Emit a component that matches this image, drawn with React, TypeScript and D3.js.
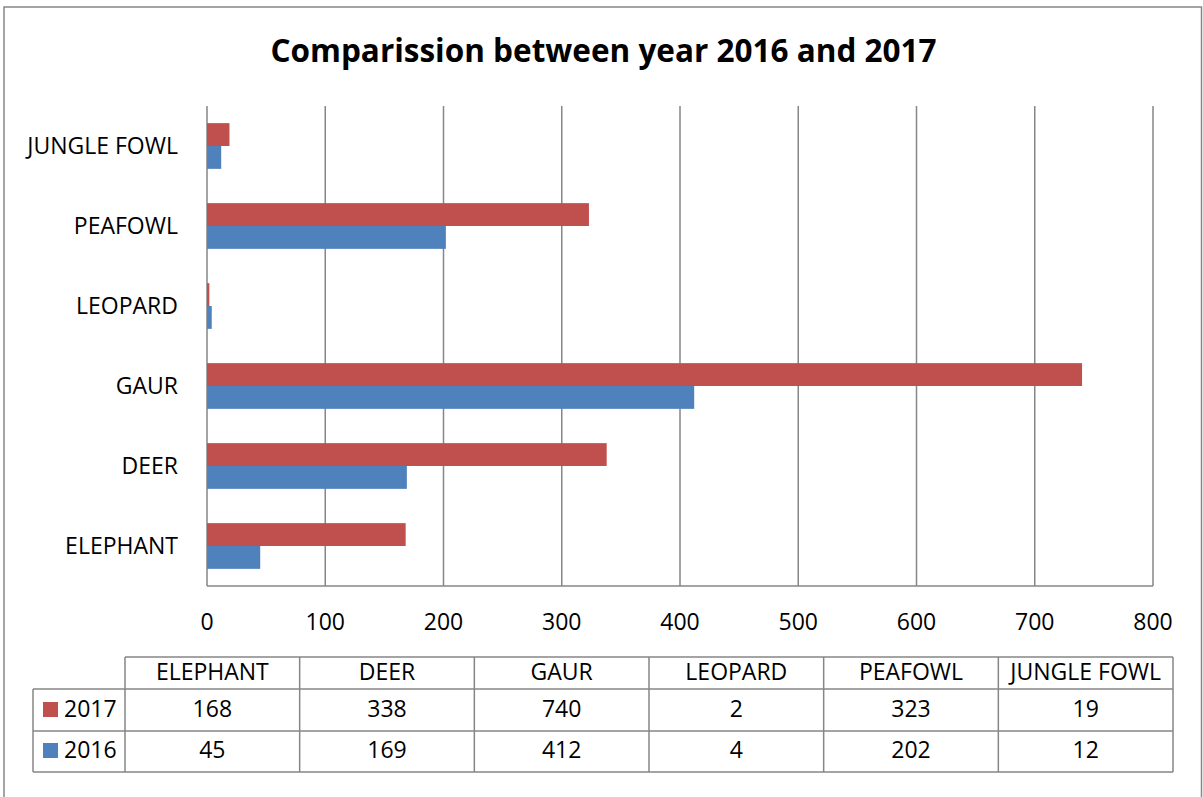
import React from "react";
import * as d3 from "d3";

const title = "Comparission between year 2016 and 2017";
const categories = ["ELEPHANT", "DEER", "GAUR", "LEOPARD", "PEAFOWL", "JUNGLE FOWL"];
const seriesNames = ["2017", "2016"];
const values2017 = [168, 338, 740, 2, 323, 19];
const values2016 = [45, 169, 412, 4, 202, 12];
const xTicks = [0, 100, 200, 300, 400, 500, 600, 700, 800];
const seriesColors = ["#C0504D", "#4F81BD"];

const W = 1203;
const H = 797;
const FONT = "'Open Sans', sans-serif";
const GRID = "#868686";
const FS = 23;

export default function App() {
  const series = [values2017, values2016];
  const x = d3.scaleLinear().domain([0, 800]).range([207, 1153]);
  const y = d3
    .scaleBand<string>()
    .domain([...categories].reverse())
    .range([106, 586]);
  const inner = d3
    .scaleBand<string>()
    .domain(seriesNames)
    .range([0, y.bandwidth()])
    .paddingInner(0)
    .paddingOuter(0.75);

  // table geometry
  const col = d3.scaleBand<string>().domain(categories).range([125, 1173]);
  const rowTops = [657, 689, 731, 772];
  const legendLeft = 33;

  return (
    <svg
      width={W}
      height={H}
      style={{ position: "absolute", left: 0, top: 0, background: "#fff" }}
      fontFamily={FONT}
    >
      <rect x={0} y={0} width={W} height={H} fill="#fff" />
      <rect x={4} y={7} width={1197.5} height={H + 10} fill="none" stroke={GRID} strokeWidth={1.5} />
      <text x={603.5} y={62} textAnchor="middle" fontSize={31.5} fontWeight="bold" fill="#000">
        {title}
      </text>

      {/* grid lines */}
      {xTicks.map((t) => (
        <line key={t} x1={x(t)} x2={x(t)} y1={106} y2={586} stroke={GRID} strokeWidth={1.5} />
      ))}
      <line x1={x(0)} x2={x(800)} y1={586} y2={586} stroke={GRID} strokeWidth={1.5} />

      {/* bars */}
      {categories.map((c, i) =>
        seriesNames.map((s, j) => {
          const v = series[j][i];
          return (
            <rect
              key={c + s}
              x={x(0)}
              y={(y(c) as number) + (inner(s) as number)}
              width={x(v) - x(0)}
              height={inner.bandwidth()}
              fill={seriesColors[j]}
            />
          );
        })
      )}

      {/* category labels */}
      {categories.map((c) => (
        <text
          key={c}
          x={178}
          y={(y(c) as number) + y.bandwidth() / 2}
          dy="0.35em"
          textAnchor="end"
          fontSize={FS}
          fill="#000"
        >
          {c}
        </text>
      ))}

      {/* tick labels */}
      {xTicks.map((t) => (
        <text key={t} x={x(t)} y={630} textAnchor="middle" fontSize={FS} fill="#000">
          {t}
        </text>
      ))}

      {/* data table */}
      <g stroke={GRID} strokeWidth={1.5}>
        <line x1={125} x2={1173} y1={rowTops[0]} y2={rowTops[0]} />
        <line x1={legendLeft} x2={1173} y1={rowTops[1]} y2={rowTops[1]} />
        <line x1={legendLeft} x2={1173} y1={rowTops[2]} y2={rowTops[2]} />
        <line x1={legendLeft} x2={1173} y1={rowTops[3]} y2={rowTops[3]} />
        <line x1={legendLeft} x2={legendLeft} y1={rowTops[1]} y2={rowTops[3]} />
        {categories.map((c) => (
          <line key={c} x1={col(c)} x2={col(c)} y1={rowTops[0]} y2={rowTops[3]} />
        ))}
        <line x1={1173} x2={1173} y1={rowTops[0]} y2={rowTops[3]} />
      </g>
      {categories.map((c) => (
        <text
          key={c}
          x={(col(c) as number) + col.bandwidth() / 2}
          y={680}
          textAnchor="middle"
          fontSize={FS}
          fill="#000"
        >
          {c}
        </text>
      ))}
      {seriesNames.map((s, j) => {
        const base = j === 0 ? 717 : 758;
        return (
          <g key={s}>
            <rect x={43} y={base - 15} width={15} height={15} fill={seriesColors[j]} />
            <text x={64} y={base} fontSize={FS} fill="#000">
              {s}
            </text>
            {categories.map((c, i) => (
              <text
                key={c}
                x={(col(c) as number) + col.bandwidth() / 2}
                y={base}
                textAnchor="middle"
                fontSize={FS}
                fill="#000"
              >
                {series[j][i]}
              </text>
            ))}
          </g>
        );
      })}
    </svg>
  );
}
